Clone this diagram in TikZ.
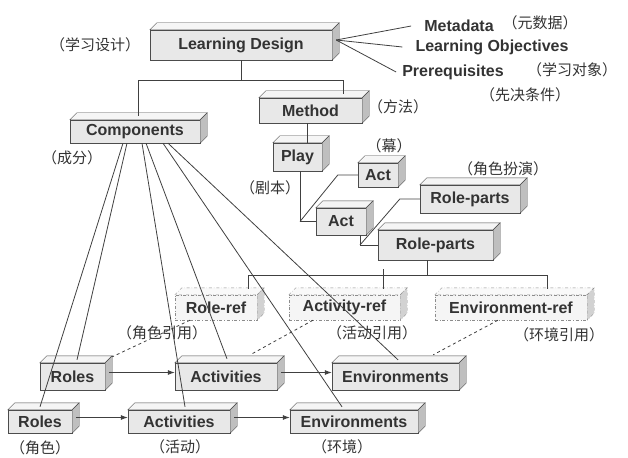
\documentclass[tikz,border=0pt]{standalone}
\usepackage{fontspec}
\setmainfont{Liberation Sans}
\newfontfamily\cjk{Noto Sans CJK SC}
\usepackage{tikz}
\usetikzlibrary{arrows.meta}
\tikzstyle{bloque} = [draw=black!70, fill=gray!18, text=black!80, inner sep=2pt, font=\bfseries\fontsize{16}{18}\selectfont]
\tikzstyle{bloqueref} = [bloque, draw=black!45, dash dot, fill=gray!8, minimum height=25pt]
\tikzstyle{tapa} = [draw=black!70, fill=gray!8]
\tikzstyle{lado} = [draw=black!70, fill=gray!50]
\tikzstyle{taparef} = [draw=black!45, dash dot, fill=gray!5]
\tikzstyle{ladoref} = [draw=black!45, dash dot, fill=gray!35]
\tikzstyle{nota} = [text=black!80, inner sep=0pt, font=\cjk\fontsize{15}{18}\selectfont]
\tikzstyle{texto} = [text=black!80, inner sep=1pt, font=\bfseries\fontsize{16}{18}\selectfont]
\tikzstyle{linea} = [draw=black!75, line width=0.8pt]
\tikzstyle{flecha} = [linea, -{Latex[length=7pt, width=5pt]}]
\tikzstyle{rayas} = [linea, dashed]

\begin{document}
\begin{tikzpicture}[x=1pt, y=-1pt]
	\useasboundingbox (0,0) rectangle (628,457);
	% cajas
	\node[bloque, minimum width=182pt, minimum height=30pt] (ld) at (241,45) {Learning Design};
	\node[bloque, minimum width=130pt, minimum height=23pt] (comp) at (135,131.5) {Components};
	\node[bloque, minimum width=103pt, minimum height=25pt] (meth) at (310.5,110.5) {Method};
	\node[bloque, minimum width=49pt, minimum height=28pt] (play) at (297.5,157) {Play};
	\node[bloque, minimum width=40pt, minimum height=24pt] (actu) at (378,175) {Act};
	\node[bloque, minimum width=50pt, minimum height=27pt] (actd) at (341,221.5) {Act};
	\node[bloque, minimum width=100pt, minimum height=28pt] (rpu) at (470,199) {Role-parts};
	\node[bloque, minimum width=115pt, minimum height=30pt] (rpd) at (435.5,245) {Role-parts};
	\node[bloqueref, minimum width=82pt] (rref) at (216,307.5) {Role-ref};
	\node[bloqueref, minimum width=111pt] (aref) at (344.5,307.5) {Activity-ref};
	\node[bloqueref, minimum width=152pt] (eref) at (511,307.5) {Environment-ref};
	\node[bloque, minimum width=65pt, minimum height=27pt] (rolu) at (72.5,376.5) {Roles};
	\node[bloque, minimum width=102pt, minimum height=27pt] (actvu) at (226,376.5) {Activities};
	\node[bloque, minimum width=127pt, minimum height=27pt] (envu) at (395.5,376.5) {Environments};
	\node[bloque, minimum width=64pt, minimum height=23pt] (rold) at (40,421.5) {Roles};
	\node[bloque, minimum width=102pt, minimum height=23pt] (actvd) at (179,421.5) {Activities};
	\node[bloque, minimum width=128pt, minimum height=23pt] (envd) at (354,421.5) {Environments};
	% caras de las cajas
	\foreach \n in {ld,comp,meth,play,actu,actd,rpu,rpd,rolu,actvu,envu,rold,actvd,envd}{
		\filldraw[tapa] (\n.north west) -- ++(7,-7) -- ([shift={(7,-7)}]\n.north east) -- (\n.north east) -- cycle;
		\filldraw[lado] (\n.north east) -- ++(7,-7) -- ([shift={(7,-7)}]\n.south east) -- (\n.south east) -- cycle;
	}
	\foreach \n in {rref,aref,eref}{
		\filldraw[taparef] (\n.north west) -- ++(7,-7) -- ([shift={(7,-7)}]\n.north east) -- (\n.north east) -- cycle;
		\filldraw[ladoref] (\n.north east) -- ++(7,-7) -- ([shift={(7,-7)}]\n.south east) -- (\n.south east) -- cycle;
	}
	% textos
	\node[nota] (ldcn) at (95,45) {（学习设计）};
	\node[nota] (compcn) at (72,158) {（成分）};
	\node[nota] (methcn) at (398,107) {（方法）};
	\node[nota] (playcn) at (270,188) {（剧本）};
	\node[nota] (actcn) at (389,146) {（幕）};
	\node[nota] (rpcn) at (503,169) {（角色扮演）};
	\node[nota] (rrefcn) at (162,333) {（角色引用）};
	\node[nota] (arefcn) at (372,333) {（活动引用）};
	\node[nota] (erefcn) at (559,335) {（环境引用）};
	\node[nota] (rolcn) at (40,448) {（角色）};
	\node[nota] (actvcn) at (180,447) {（活动）};
	\node[nota] (envcn) at (342,447) {（环境）};
	\node[texto] (meta) at (459,26) {Metadata};
	\node[texto] (obj) at (492,47) {Learning Objectives};
	\node[texto] (pre) at (453,72) {Prerequisites};
	\node[nota] (metacn) at (540,23) {（元数据）};
	\node[nota] (objcn) at (572,70) {（学习对象）};
	\node[nota] (precn) at (525,95) {（先决条件）};
	% enlaces
	\coordinate (hub) at ([shift={(4,-5)}]ld.east);
	\draw[linea] (hub) -- ([xshift=-12]meta.west);
	\draw[linea] (hub) -- ([xshift=-12]obj.west);
	\draw[linea] (hub) -- ([xshift=-5]pre.west);
	\coordinate (bus) at ([yshift=-20]ld.south);
	\draw[linea] (ld.south) -- (bus);
	\draw[linea] ([xshift=3,yshift=4]comp.north) |- (bus) -| ([xshift=32.5,yshift=4]meth.north);
	\draw[linea] ([xshift=-3]meth.south) -- ([xshift=-3]meth.south |- play.north);
	\draw[linea] ([xshift=2.5]play.south) |- (actd.west);
	\draw[linea] ([xshift=2.5]play.south |- actd.west) -- ([xshift=-20]actu.west) -- (actu.west);
	\draw[linea] ([xshift=19]actd.south) |- (rpd.west);
	\draw[linea] ([xshift=19]actd.south |- rpd.west) -- ([xshift=-20]rpu.west) -- (rpu.west);
	\coordinate (refbus) at ([xshift=-8.5,yshift=-15]rpd.south);
	\draw[linea] ([xshift=-8.5]rpd.south) -- (refbus);
	\draw[linea] ([xshift=32,yshift=6]rref.north) |- (refbus) -| ([xshift=36,yshift=6]eref.north);
	\draw[linea] ([xshift=38.5,yshift=6]aref.north) -- ([xshift=38.5,yshift=6]aref.north |- refbus);
	\draw[linea] ([xshift=-12]comp.south) -- ([yshift=3]rold.north);
	\draw[linea] ([xshift=-8]comp.south) -- ([xshift=4.5,yshift=3]rolu.north);
	\draw[linea] ([xshift=7]comp.south) -- ([xshift=6,yshift=3]actvd.north);
	\draw[linea] ([xshift=11]comp.south) -- ([xshift=1,yshift=4]actvu.north);
	\draw[linea] ([xshift=28]comp.south) -- ([xshift=-12,yshift=3]envd.north);
	\draw[linea] ([xshift=33]comp.south) -- ([xshift=2.5,yshift=3]envu.north);
	\draw[rayas] ([xshift=-26]rref.south) -- ([shift={(7,-6)}]rolu.north east);
	\draw[rayas] ([xshift=-31.5]aref.south) -- ([shift={(-27,-8)}]actvu.north east);
	\draw[rayas] ([xshift=-13]eref.south) -- ([shift={(-26,-8)}]envu.north east);
	\draw[flecha] ([xshift=4,yshift=4]rolu.east) -- ([yshift=4]actvu.west);
	\draw[flecha] ([xshift=4,yshift=4]actvu.east) -- ([yshift=4]envu.west);
	\draw[flecha] ([xshift=4,yshift=4]rold.east) -- ([yshift=4]actvd.west);
	\draw[flecha] ([xshift=4,yshift=4]actvd.east) -- ([yshift=4]envd.west);
\end{tikzpicture}
\end{document}
